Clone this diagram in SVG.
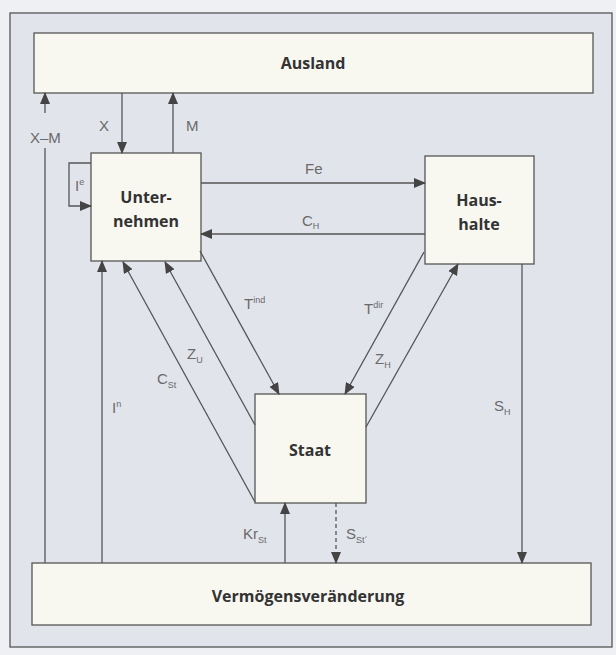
<svg xmlns="http://www.w3.org/2000/svg" width="616" height="655" viewBox="0 0 616 655">
<style>
.box{fill:#f8f8f1;stroke:#555;stroke-width:1.3}
.frame{fill:#e2e4ec;stroke:#555;stroke-width:1.3}
.t{font-family:"Open Sans","DejaVu Sans",sans-serif;font-weight:bold;font-size:16px;fill:#333;text-anchor:middle}
.l{font-family:"Liberation Sans","Arial",sans-serif;font-size:15px;fill:#6a6a6a}
.s{font-size:9px}
.c{fill:none;stroke:#555;stroke-width:1.3}
.d{stroke-dasharray:4,3}
</style>
<defs>
<marker id="a" markerUnits="userSpaceOnUse" markerWidth="12" markerHeight="10" refX="11" refY="5" orient="auto">
<path d="M0,0 L12,5 L0,10 Z" fill="#444"/>
</marker>
</defs>
<rect x="0" y="0" width="616" height="655" fill="#eef0f4"/>
<rect class="frame" x="10" y="13" width="602" height="634"/>
<g id="ausland"><rect class="box" x="34" y="33" width="559" height="60"/><text class="t" x="313" y="69">Ausland</text></g>
<g id="unternehmen"><rect class="box" x="91" y="153" width="110" height="108"/><text class="t" x="146" y="203">Unter-</text><text class="t" x="146" y="227">nehmen</text></g>
<g id="haushalte"><rect class="box" x="425" y="156" width="109" height="108"/><text class="t" x="479" y="206">Haus-</text><text class="t" x="479" y="230">halte</text></g>
<g id="staat"><rect class="box" x="255" y="394" width="111" height="109"/><text class="t" x="310" y="456">Staat</text></g>
<g id="vermoegen"><rect class="box" x="32" y="563" width="559" height="62"/><text class="t" x="308" y="602">Vermögensveränderung</text></g>
<g id="connectors">
<line class="c" x1="122" y1="93" x2="122" y2="153" marker-end="url(#a)"/>
<line class="c" x1="173" y1="153" x2="173" y2="93" marker-end="url(#a)"/>
<line class="c" x1="45" y1="563" x2="45" y2="148"/>
<line class="c" x1="45" y1="113" x2="45" y2="93" marker-end="url(#a)"/>
<path class="c" d="M91,163 H69 V206 H91" marker-end="url(#a)"/>
<line class="c" x1="201" y1="183" x2="425" y2="183" marker-end="url(#a)"/>
<line class="c" x1="425" y1="234" x2="201" y2="234" marker-end="url(#a)"/>
<line class="c" x1="200" y1="251" x2="279" y2="394" marker-end="url(#a)"/>
<line class="c" x1="255" y1="425" x2="165" y2="262" marker-end="url(#a)"/>
<line class="c" x1="255" y1="502" x2="123" y2="262" marker-end="url(#a)"/>
<line class="c" x1="424" y1="252" x2="345" y2="394" marker-end="url(#a)"/>
<line class="c" x1="366" y1="427" x2="458" y2="264" marker-end="url(#a)"/>
<line class="c" x1="102" y1="563" x2="102" y2="261" marker-end="url(#a)"/>
<line class="c" x1="522" y1="264" x2="522" y2="563" marker-end="url(#a)"/>
<line class="c" x1="285" y1="563" x2="285" y2="503" marker-end="url(#a)"/>
<line class="c d" x1="336" y1="503" x2="336" y2="563" marker-end="url(#a)"/>
</g>
<g id="labels">
<text class="l" x="99" y="131">X</text>
<text class="l" x="186" y="131">M</text>
<text class="l" x="30" y="143">X–M</text>
<text class="l" x="75" y="191" font-family="Liberation Serif,serif">I<tspan class="s" dy="-6">e</tspan></text>
<text class="l" x="305" y="174">Fe</text>
<text class="l" x="302" y="226">C<tspan class="s" dy="3">H</tspan></text>
<text class="l" x="244" y="309">T<tspan class="s" dy="-6">ind</tspan></text>
<text class="l" x="187" y="359">Z<tspan class="s" dy="4">U</tspan></text>
<text class="l" x="157" y="384">C<tspan class="s" dy="4">St</tspan></text>
<text class="l" x="112" y="413" font-family="Liberation Serif,serif">I<tspan class="s" dy="-6">n</tspan></text>
<text class="l" x="364" y="314">T<tspan class="s" dy="-6">dir</tspan></text>
<text class="l" x="375" y="364">Z<tspan class="s" dy="4">H</tspan></text>
<text class="l" x="494" y="411">S<tspan class="s" dy="4">H</tspan></text>
<text class="l" x="243" y="539">Kr<tspan class="s" dy="4">St</tspan></text>
<text class="l" x="346" y="539">S<tspan class="s" dy="4">St´</tspan></text>
</g>
</svg>
